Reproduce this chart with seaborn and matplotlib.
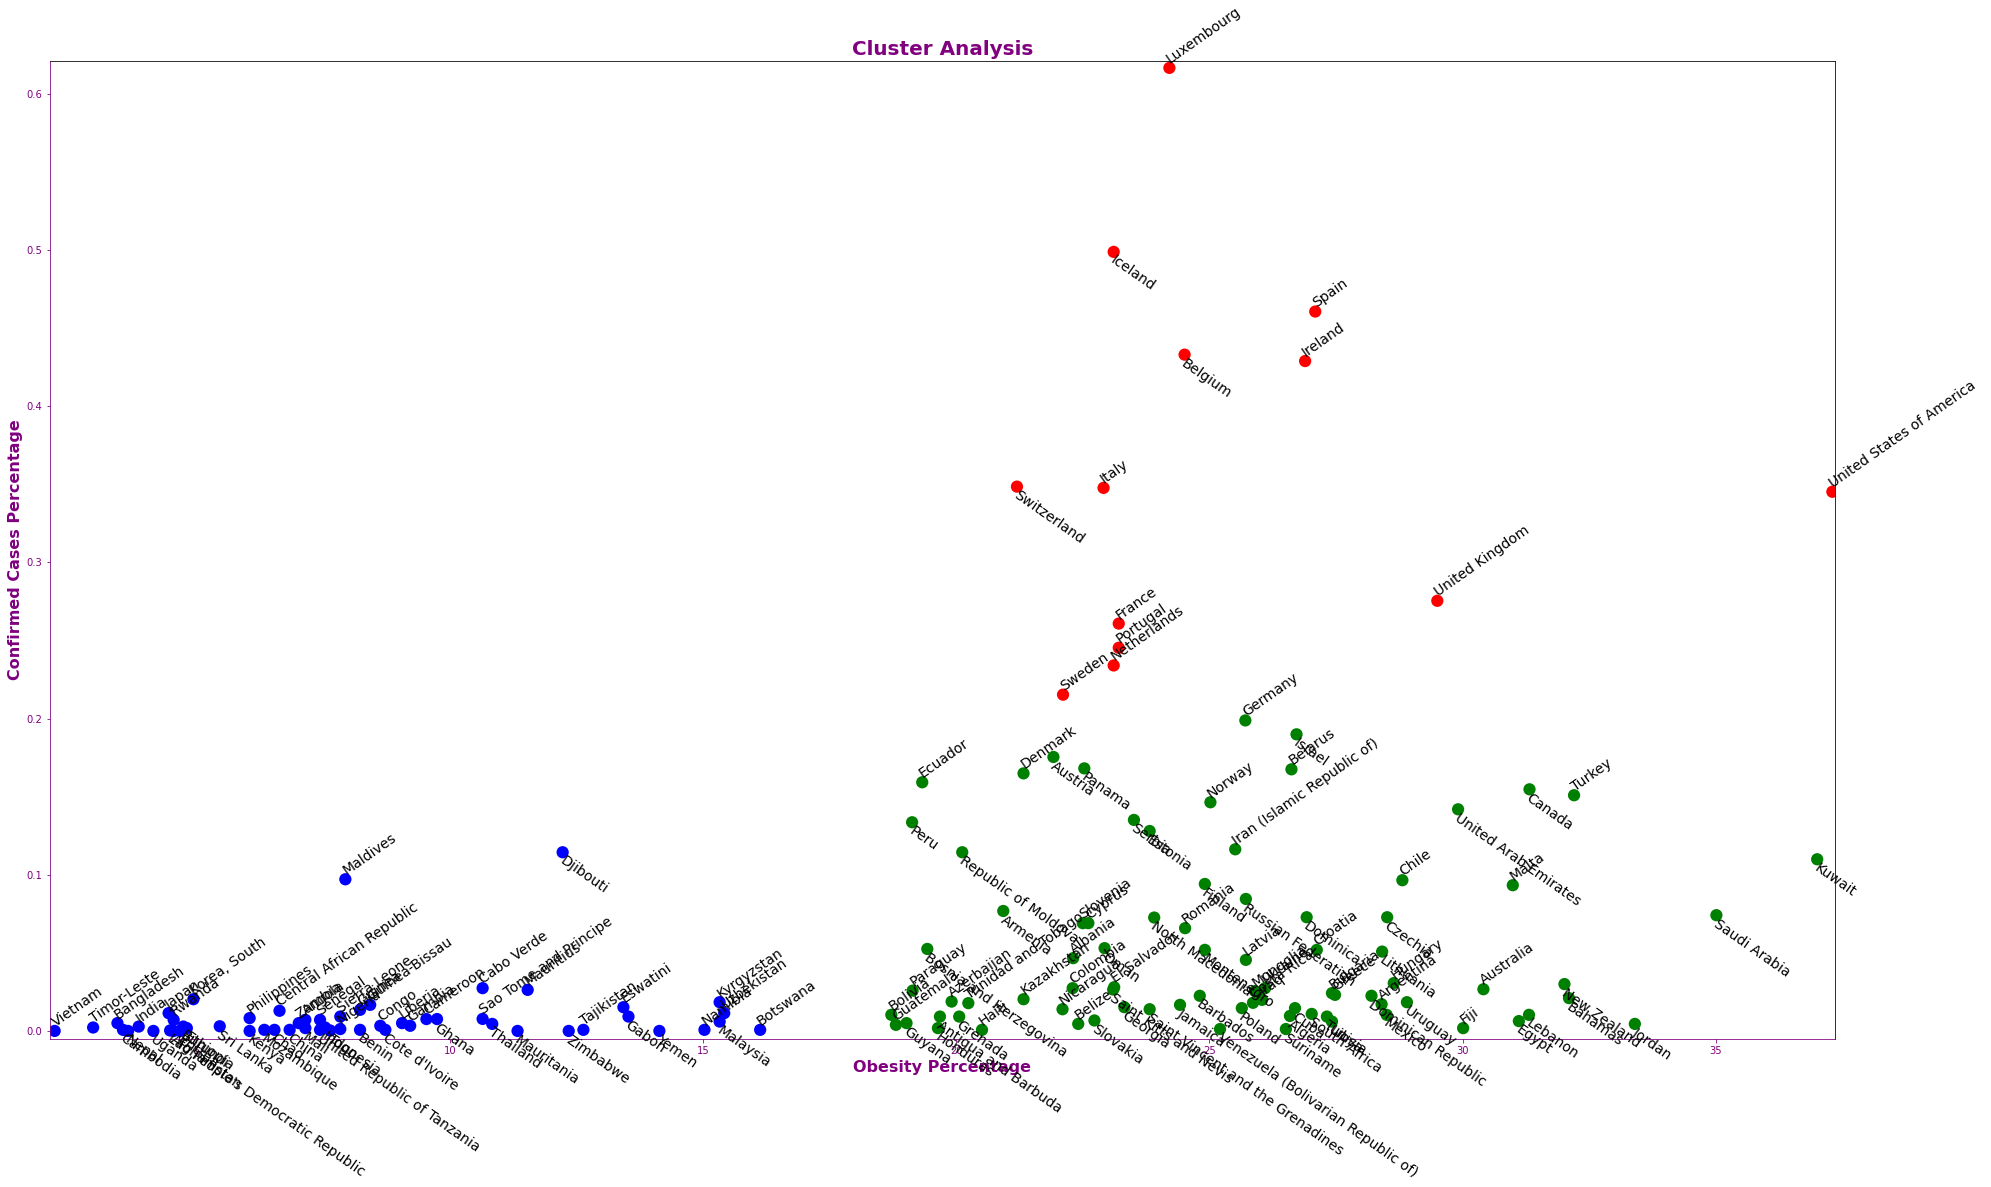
import numpy as np
import pandas as pd
import matplotlib
matplotlib.use("Agg")
import matplotlib.pyplot as plt
import seaborn as sns

# cluster 0 -> blue (low obesity)
blue_countries = [
    "Vietnam", "Timor-Leste", "Bangladesh", "Cambodia", "Nepal", "India", "Uganda", "Japan",
    "Rwanda", "Afghanistan", "Burundi", "Ethiopia", "Korea, South", "Eritrea",
    "Lao People's Democratic Republic", "Sri Lanka", "Philippines", "Kenya", "Mozambique", "Chad",
    "Central African Republic", "China", "Zambia", "Angola", "Mali", "Senegal",
    "United Republic of Tanzania", "Indonesia", "Togo", "Sierra Leone", "Nigeria", "Guinea",
    "Guinea-Bissau", "Benin", "Congo", "Cote d'Ivoire", "Liberia", "Gambia", "Cameroon", "Ghana",
    "Maldives", "Cabo Verde", "Sao Tome and Principe", "Thailand", "Mauritania", "Mauritius",
    "Djibouti", "Zimbabwe", "Tajikistan", "Eswatini", "Gabon", "Yemen", "Namibia", "Kyrgyzstan",
    "Uzbekistan", "Malaysia", "Botswana",
]
blue_obesity = [
    2.2, 2.96, 3.44, 3.55, 3.65, 3.86, 4.15, 4.45,
    4.55, 4.55, 4.74, 4.81, 4.94, 4.68,
    4.48, 5.46, 6.05, 6.05, 6.34, 6.54,
    6.64, 6.84, 7.02, 7.15, 7.15, 7.44,
    7.44, 7.54, 7.64, 7.84, 7.84, 8.23,
    8.43, 8.23, 8.63, 8.73, 9.06, 9.22, 9.54, 9.75,
    7.94, 10.65, 10.65, 10.84, 11.34, 11.54,
    12.23, 12.35, 12.64, 13.43, 13.53, 14.14, 15.03, 15.33,
    15.42, 15.33, 16.13,
]
blue_cases = [
    0.0, 0.0022, 0.005, 0.0007, 0.0, 0.0028, 0.0, 0.0114,
    0.0071, 0.0, 0.0028, 0.0018, 0.0203, 0.0,
    0.0003, 0.003, 0.0082, 0.0, 0.0007, 0.0007,
    0.0129, 0.0007, 0.005, 0.0071, 0.0018, 0.0071,
    0.0007, 0.0022, 0.0003, 0.0092, 0.0012, 0.0135,
    0.0167, 0.0007, 0.0033, 0.0007, 0.005, 0.0033, 0.0076, 0.0076,
    0.0971, 0.0274, 0.0077, 0.0045, 0.0, 0.0263,
    0.1144, 0.0, 0.0007, 0.0152, 0.0092, 0.0, 0.0007, 0.0184,
    0.0114, 0.006, 0.0007,
]

# cluster 1 -> green (mid obesity)
green_countries = [
    "Ecuador", "Peru", "Denmark", "Austria", "Panama", "Serbia", "Estonia", "Norway", "Germany",
    "Israel", "Belarus", "Iran (Islamic Republic of)", "Canada", "Turkey", "United Arab Emirates",
    "Chile", "Malta", "Kuwait", "Saudi Arabia", "Czechia", "Republic of Moldova", "Armenia",
    "Slovenia", "Cyprus", "North Macedonia", "Romania", "Finland", "Russian Federation",
    "Dominica", "Oman", "Montenegro", "Latvia", "Croatia", "Lithuania", "Hungary", "Kazakhstan",
    "Albania", "Colombia", "El Salvador", "Saint Kitts and Nevis", "Nicaragua", "Belize",
    "Slovakia", "Georgia", "Saint Vincent and the Grenadines", "Jamaica", "Barbados",
    "Venezuela (Bolivarian Republic of)", "Poland", "Mongolia", "Ukraine", "Costa Rica", "Iraq",
    "Algeria", "Cuba", "Suriname", "South Africa", "Tunisia", "Libya", "Bulgaria", "Greece",
    "Dominican Republic", "Argentina", "Mexico", "Uruguay", "Australia", "Fiji", "Egypt",
    "Lebanon", "New Zealand", "Bahamas", "Jordan", "Bosnia and Herzegovina", "Bolivia",
    "Guatemala", "Guyana", "Paraguay", "Azerbaijan", "Trinidad and Tobago",
    "Antigua and Barbuda", "Honduras", "Grenada", "Haiti",
]
green_obesity = [
    19.33, 19.13, 21.33, 21.92, 22.53, 23.51, 23.82, 25.02, 25.71,
    26.72, 26.62, 25.51, 31.32, 32.2, 29.91,
    28.81, 30.99, 37.0, 35.01, 28.51, 20.12, 20.93,
    22.50, 22.61, 23.91, 24.52, 24.91, 25.72,
    26.92, 22.93, 24.91, 25.72, 27.12, 28.41, 28.64, 21.33,
    22.31, 22.30, 23.12, 23.10, 22.10, 22.41,
    22.73, 23.32, 23.82, 24.42, 24.81,
    25.21, 25.64, 25.90, 26.10, 25.86, 26.04,
    26.59, 26.69, 26.51, 27.02, 27.32, 27.42, 27.42, 27.48,
    28.2, 28.4, 28.5, 28.9, 30.41, 30.01, 31.11,
    31.31, 32.01, 32.1, 33.4, 19.43, 18.72,
    18.81, 19.02, 19.14, 19.91, 20.24,
    19.68, 19.64, 20.06, 20.51,
]
green_cases = [
    0.1592, 0.1336, 0.1649, 0.1754, 0.1681, 0.1351, 0.128, 0.1464, 0.1988,
    0.1899, 0.1675, 0.1163, 0.1547, 0.1509, 0.1419,
    0.0965, 0.0933, 0.1099, 0.0741, 0.0728, 0.1144, 0.0768,
    0.069, 0.069, 0.0726, 0.0658, 0.0941, 0.0845,
    0.0728, 0.053, 0.0519, 0.0455, 0.0519, 0.0508, 0.0306, 0.0203,
    0.0466, 0.0274, 0.028, 0.0265, 0.0139, 0.0045,
    0.0067, 0.0152, 0.0139, 0.0167, 0.0225,
    0.0012, 0.0146, 0.0255, 0.0274, 0.018, 0.0199,
    0.0096, 0.0146, 0.0012, 0.0109, 0.0092, 0.006, 0.0242, 0.0231,
    0.0225, 0.0171, 0.0103, 0.0184, 0.0267, 0.0018, 0.0063,
    0.0103, 0.03, 0.021, 0.0045, 0.0525, 0.0103,
    0.0039, 0.005, 0.0258, 0.0188, 0.0178,
    0.0092, 0.0018, 0.0092, 0.0007,
]

# cluster 2 -> red (high case share)
red_countries = [
    "Luxembourg", "Iceland", "Spain", "Belgium", "Ireland", "Switzerland", "Italy",
    "United States of America", "United Kingdom", "France", "Portugal", "Netherlands", "Sweden",
]
red_obesity = [24.21, 23.11, 27.09, 24.51, 26.89, 21.20, 22.91,
               37.3, 29.50, 23.21, 23.21, 23.11, 22.11]
red_cases = [0.6166, 0.4988, 0.4606, 0.433, 0.4289, 0.3485, 0.3477,
             0.3452, 0.2754, 0.2608, 0.2453, 0.234, 0.2153]

# label direction per point (True = text goes up-right, False = down-right)
blue_up = [
    True, True, True, False, False, True, False, True,
    True, False, False, False, True, False,
    False, False, True, False, False, False,
    True, False, True, True, False, True,
    False, False, False, True, True, True,
    True, False, True, False, True, True, True, False,
    True, True, True, False, False, True,
    False, False, True, True, False, False, True, True,
    True, False, True,
]
green_up = [
    True, False, True, False, False, False, False, True, True,
    False, True, True, False, True, False,
    True, True, False, False, False, False, False,
    True, True, False, True, False, False,
    False, False, False, True, True, False, True, True,
    True, True, True, False, True, True,
    False, False, False, False, False,
    False, False, True, True, True, True,
    False, False, False, False, False, False, True, True,
    False, True, False, False, True, True, False,
    False, False, False, False, False, True,
    True, False, True, True, True,
    False, False, False, True,
]
red_up = [True, False, True, False, True, False, True,
          True, True, True, True, True, True]

frames = []
for k, (names, xs, ys, ups) in enumerate([
        (blue_countries, blue_obesity, blue_cases, blue_up),
        (green_countries, green_obesity, green_cases, green_up),
        (red_countries, red_obesity, red_cases, red_up)]):
    frames.append(pd.DataFrame({"Country": names, "Obesity": xs, "Cases": ys,
                                "Up": ups, "Cluster": k}))
df = pd.concat(frames, ignore_index=True)

W, H, DPI = 1991, 1187, 72
fig = plt.figure(figsize=(W / DPI, H / DPI), dpi=DPI)
ax = fig.add_axes([0.0249, 0.1249, 0.8967, 0.8237])

palette = {0: "blue", 1: "green", 2: "red"}
sns.scatterplot(data=df, x="Obesity", y="Cases", hue="Cluster", palette=palette,
                s=150, linewidth=0, legend=False, ax=ax)

for _, row in df.iterrows():
    if row["Up"]:
        ax.text(row["Obesity"] + 0.05, row["Cases"] + 0.001, row["Country"], rotation=35,
                rotation_mode="anchor", ha="left", va="bottom", fontsize=14, color="black")
    else:
        ax.text(row["Obesity"] + 0.05, row["Cases"] - 0.001, row["Country"], rotation=-35,
                rotation_mode="anchor", ha="left", va="top", fontsize=14, color="black")

ax.set_xlim(2.1, 37.35)
ax.set_ylim(-0.005, 0.621)

ax.set_title("Cluster Analysis", fontsize=20, fontweight="bold", color="purple")
ax.set_xlabel("Obesity Percentage", fontsize=16, fontweight="bold", color="purple")
ax.set_ylabel("Confirmed Cases Percentage", fontsize=16, fontweight="bold", color="purple")

ax.spines["left"].set_color("purple")
ax.spines["bottom"].set_color("purple")
ax.tick_params(axis="both", colors="purple", labelsize=10)

fig.savefig("out.png", dpi=DPI)
